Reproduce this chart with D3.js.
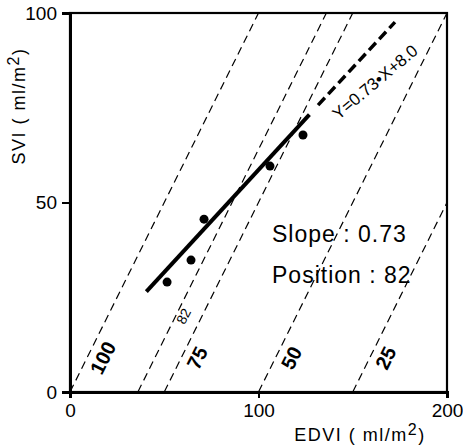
<!DOCTYPE html>
<html>
<head>
<meta charset="utf-8">
<script src="https://cdn.jsdelivr.net/npm/d3@7"></script>
<style>
  body { margin: 0; background: #fff; }
  svg { display: block; font-family: "Liberation Sans", Arial, sans-serif; }
</style>
</head>
<body>
<div id="chart"></div>
<script>
// iso-position lines: y = x - intercept
var isoLabels = ["100", "82", "75", "50", "25"];
var isoIntercepts = [0, 36, 50, 100, 150];

// measured points (EDVI, SVI)
var pointsX = [51.5, 64.2, 71.1, 106.1, 123.6];
var pointsY = [29.0, 34.8, 45.6, 59.6, 67.8];

// fitted line as drawn, and its dashed extension
var fitX = [40.5, 127];
var fitY = [26.5, 73.2];
var extX = [131.6, 172.4];
var extY = [75.7, 97.6];

var xTicks = [0, 100, 200];
var yTicks = [0, 50, 100];

var W = 463, H = 447;
var x = d3.scaleLinear().domain([0, 200]).range([70, 447]);
var y = d3.scaleLinear().domain([0, 100]).range([392, 13]);

var svg = d3.select("#chart").append("svg")
    .attr("width", W)
    .attr("height", H);

svg.append("clipPath").attr("id", "plot")
    .append("rect")
    .attr("x", x(0)).attr("y", y(100))
    .attr("width", x(200) - x(0)).attr("height", y(0) - y(100));

var plot = svg.append("g").attr("clip-path", "url(#plot)");

// thin dashed iso lines
isoIntercepts.forEach(function (b) {
    plot.append("line")
        .attr("x1", x(b)).attr("y1", y(0))
        .attr("x2", x(b + 100)).attr("y2", y(100))
        .attr("stroke", "#000")
        .attr("stroke-width", 1.2)
        .attr("stroke-dasharray", "8,5");
});

// labels along iso lines
var ang = -Math.atan2(y(0) - y(100), x(100) - x(0)) * 180 / Math.PI;
isoIntercepts.forEach(function (b, i) {
    var small = isoLabels[i] === "82";
    var yv = small ? 20 : 9;
    var px = x(yv + b) + (small ? 8 : 16);
    var py = y(yv);
    svg.append("text")
        .attr("transform", "translate(" + px + "," + py + ") rotate(" + ang + ")")
        .attr("text-anchor", "middle")
        .attr("dy", "0.35em")
        .attr("font-size", small ? "14px" : "20px")
        .attr("font-weight", small ? "normal" : "bold")
        .attr("font-family", small ? "'Liberation Sans Narrow', 'Liberation Sans', sans-serif" : null)
        .text(isoLabels[i]);
});

// fitted line
plot.append("line")
    .attr("x1", x(fitX[0])).attr("y1", y(fitY[0]))
    .attr("x2", x(fitX[1])).attr("y2", y(fitY[1]))
    .attr("stroke", "#000")
    .attr("stroke-width", 4);

plot.append("line")
    .attr("x1", x(extX[0])).attr("y1", y(extY[0]))
    .attr("x2", x(extX[1])).attr("y2", y(extY[1]))
    .attr("stroke", "#000")
    .attr("stroke-width", 3.5)
    .attr("stroke-dasharray", "10,5");

// points
plot.selectAll("circle")
    .data(pointsX)
    .enter().append("circle")
    .attr("cx", function (d) { return x(d); })
    .attr("cy", function (d, i) { return y(pointsY[i]); })
    .attr("r", 4.5)
    .attr("fill", "#000");

// equation
svg.append("text")
    .attr("transform", "translate(375,82) rotate(-40)")
    .attr("text-anchor", "middle")
    .attr("dy", "0.35em")
    .attr("font-size", "17px")
    .attr("font-family", "'Liberation Sans Narrow', 'Liberation Sans', sans-serif")
    .text("Y=0.73\u2022X+8.0");

// annotation
svg.append("text")
    .attr("x", 272).attr("y", 242)
    .attr("font-size", "23px")
    .attr("letter-spacing", "1px")
    .text("Slope : 0.73");
svg.append("text")
    .attr("x", 272).attr("y", 283)
    .attr("font-size", "23px")
    .attr("letter-spacing", "1px")
    .text("Position : 82");

// frame
svg.append("rect")
    .attr("x", x(0)).attr("y", y(100))
    .attr("width", x(200) - x(0)).attr("height", y(0) - y(100))
    .attr("fill", "none")
    .attr("stroke", "#000")
    .attr("stroke-width", 2.2);

// axes
var yAxis = svg.append("g")
    .attr("transform", "translate(" + x(0) + ",0)")
    .call(d3.axisLeft(y).tickValues(yTicks).tickSize(8).tickPadding(5));
var xAxis = svg.append("g")
    .attr("transform", "translate(0," + y(0) + ")")
    .call(d3.axisBottom(x).tickValues(xTicks).tickSize(6).tickPadding(6));

[xAxis, yAxis].forEach(function (g) {
    g.select(".domain").attr("stroke-width", 3);
    g.selectAll(".tick line").attr("stroke-width", 2);
    g.selectAll(".tick text")
        .attr("font-size", "19px")
        .attr("font-family", "'Liberation Sans', Arial, sans-serif")
        .attr("fill", "#000");
});

// axis titles
var xt = svg.append("text")
    .attr("x", 360).attr("y", 441)
    .attr("text-anchor", "middle")
    .attr("letter-spacing", "1.5px")
    .attr("font-size", "18px");
xt.append("tspan").text("EDVI ( ml/m");
xt.append("tspan").attr("dy", "-6").attr("font-size", "16px").text("2");
xt.append("tspan").attr("dy", "6").text(")");

var yt = svg.append("text")
    .attr("transform", "translate(25,106) rotate(-90)")
    .attr("text-anchor", "middle")
    .attr("letter-spacing", "1.5px")
    .attr("font-size", "18px");
yt.append("tspan").text("SVI ( ml/m");
yt.append("tspan").attr("dy", "-6").attr("font-size", "16px").text("2");
yt.append("tspan").attr("dy", "6").text(")");
</script>
</body>
</html>
